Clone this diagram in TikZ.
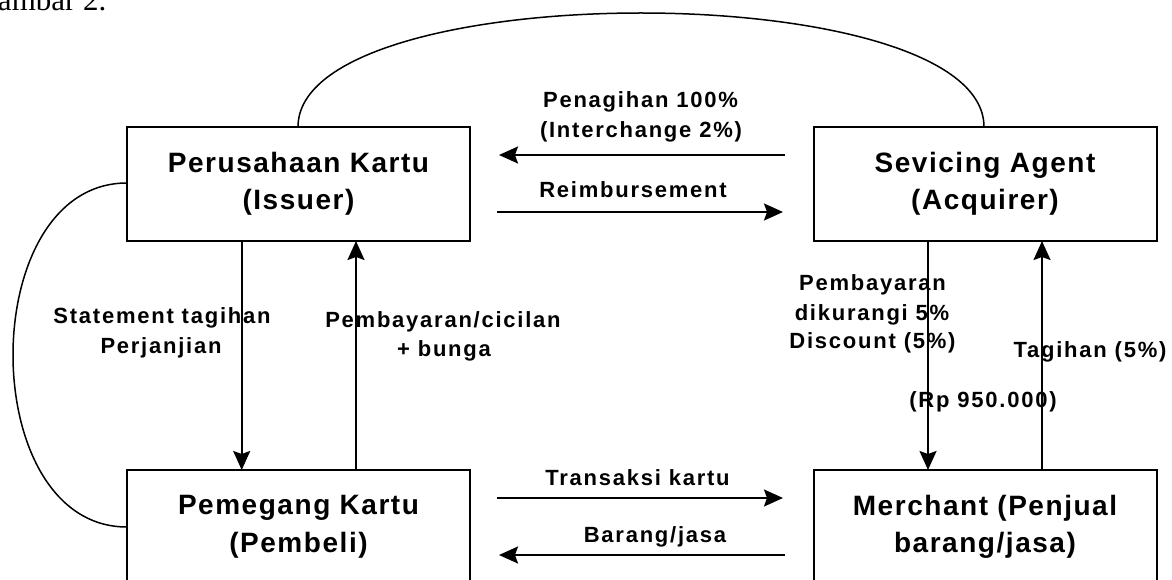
\documentclass[tikz,border=0pt]{standalone}
\usepackage{fontspec}
\setmainfont{Liberation Sans}
\newfontfamily\capfont{Liberation Serif}
\usetikzlibrary{arrows.meta}
\begin{document}
\begin{tikzpicture}[x=1pt,y=-1pt,
  every node/.style={inner sep=0pt, outer sep=0pt},
  entity/.style={draw, line width=2pt, minimum width=343pt, minimum height=114pt, align=center,
    font=\fontsize{28}{37.5}\selectfont\bfseries\addfontfeature{LetterSpace=5.5}},
  lbl/.style={anchor=base, font=\fontsize{22}{29.5}\selectfont\bfseries\addfontfeature{LetterSpace=8}},
  flow/.style={line width=2pt, -{Stealth[length=19pt,width=17pt,inset=3pt]}},
  link/.style={line width=1.5pt}
]
\useasboundingbox (0,0) rectangle (1172,580);
\clip (0,0) rectangle (1172,580);
\fill[white] (0,0) rectangle (1172,580);

\node[anchor=base west, font=\capfont\fontsize{31}{31}\selectfont] (cap) at (-2,11) {ambar 2.};

\node[entity] (iss) at (298.5,184) {Perusahaan Kartu\\(Issuer)};
\node[entity] (acq) at (985,184) {Sevicing Agent\\(Acquirer)};
\node[entity] (hold) at (298.5,527) {Pemegang Kartu\\(Pembeli)};
\node[entity] (merch) at (985,527) {Merchant (Penjual\\barang/jasa)};

% curves
\draw[link] (iss.north -| 298,0) .. controls (298,-25) and (984,-25) .. (acq.north -| 984,0);
\draw[link] (iss.west |- 0,183) .. controls (-25,183) and (-25,527) .. (hold.west |- 0,527);

% horizontal flows
\draw[flow, shorten <=28.5pt, shorten >=29pt] (acq.west |- 0,155) -- (iss.east |- 0,155);
\draw[flow, shorten <=27pt, shorten >=30.5pt] (iss.east |- 0,212) -- (acq.west |- 0,212);
\draw[flow, shorten <=27pt, shorten >=30.5pt] (hold.east |- 0,498) -- (merch.west |- 0,498);
\draw[flow, shorten <=28.5pt, shorten >=29pt] (merch.west |- 0,555) -- (hold.east |- 0,555);

% vertical flows
\draw[flow] (iss.south -| 241.7,0) -- (hold.north -| 241.7,0);
\draw[flow] (hold.north -| 356,0) -- (iss.south -| 356,0);
\draw[flow] (acq.south -| 928,0) -- (merch.north -| 928,0);
\draw[flow] (merch.north -| 1042,0) -- (acq.south -| 1042,0);

% labels
\node[lbl] (tPen1) at (640.5,108) {Penagihan 100\%};
\node[lbl] (tPen2) at (641,138) {(Interchange 2\%)};
\node[lbl] (tReim) at (633,198) {Reimbursement};
\node[lbl] (tSt1) at (162,323) {Statement tagihan};
\node[lbl] (tSt2) at (161,353) {Perjanjian};
\node[lbl] (tPb1) at (443,327) {Pembayaran/cicilan};
\node[lbl] (tPb2) at (444,356) {+ bunga};
\node[lbl] (tPd1) at (872.5,290) {Pembayaran};
\node[lbl] (tPd2) at (872,320) {dikurangi 5\%};
\node[lbl] (tPd3) at (872.5,348) {Discount (5\%)};
\node[lbl] (tTag) at (1090,357) {Tagihan (5\%)};
\node[lbl] (tRp) at (983,407) {(Rp 950.000)};
\node[lbl] (tTr) at (637.5,485) {Transaksi kartu};
\node[lbl] (tBr) at (655,542) {Barang/jasa};
\end{tikzpicture}
\end{document}
